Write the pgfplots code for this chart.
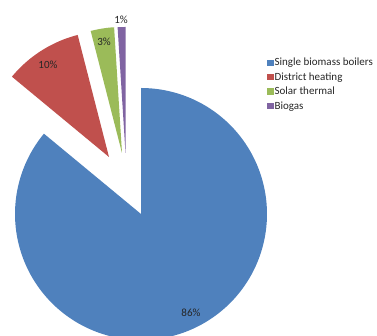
\documentclass[border=0pt]{standalone}
\usepackage{pgfplots}
\pgfplotsset{compat=1.18}
\usepackage{fontspec}
\setmainfont{Carlito}
\definecolor{cblue}{HTML}{4F81BD}
\definecolor{cred}{HTML}{C0504D}
\definecolor{cgreen}{HTML}{9BBB59}
\definecolor{cpurple}{HTML}{8064A2}
\definecolor{ctext}{HTML}{262626}
% \slice{cumulative before}{value}{centre x}{centre y}{colour}
\newcommand\slice[5]{%
  \addplot[fill=#5,draw=none,domain={90-3.6*(#1+#2)}:{90-3.6*(#1)},samples=150,variable=\t]
    ({#3+126*cos(t)},{-#4+126*sin(t)}) -- (axis cs:#3,-#4) -- cycle;}
\begin{document}
\begin{tikzpicture}
\begin{axis}[width=377pt,height=336pt,scale only axis,hide axis,
  xmin=0,xmax=377,ymin=-336,ymax=0,clip=true,
  legend image code/.code={\fill[#1,draw=none] (0pt,-3.2pt) rectangle (6.4pt,3.2pt);},
  legend style={at={(axis cs:264,-55)},anchor=north west,draw=none,fill=none,
    font=\fontsize{11}{12}\selectfont,text=ctext,row sep=3.3pt,
    nodes={inner sep=1pt},
    every odd column/.style={column sep=1.5pt}},
  legend cell align=left]
\path (rel axis cs:0,0) rectangle (rel axis cs:1,1);
% values: 86, 10, 3, 1 (percent)
\slice{0}{86}{141}{214}{cblue}
\addlegendentry{Single biomass boilers}
\slice{86}{10}{109}{157}{cred}
\addlegendentry{District heating}
\slice{96}{3}{122}{153}{cgreen}
\addlegendentry{Solar thermal}
\slice{99}{1}{125.5}{153}{cpurple}
\addlegendentry{Biogas}
\node[font=\fontsize{11}{12}\selectfont,text=ctext] at (axis cs:191,-313) {86\%};
\node[font=\fontsize{11}{12}\selectfont,text=ctext] at (axis cs:48,-65) {10\%};
\node[font=\fontsize{11}{12}\selectfont,text=ctext] at (axis cs:104,-42) {3\%};
\node[font=\fontsize{11}{12}\selectfont,text=ctext] at (axis cs:121,-20) {1\%};
\end{axis}
\end{tikzpicture}
\end{document}
